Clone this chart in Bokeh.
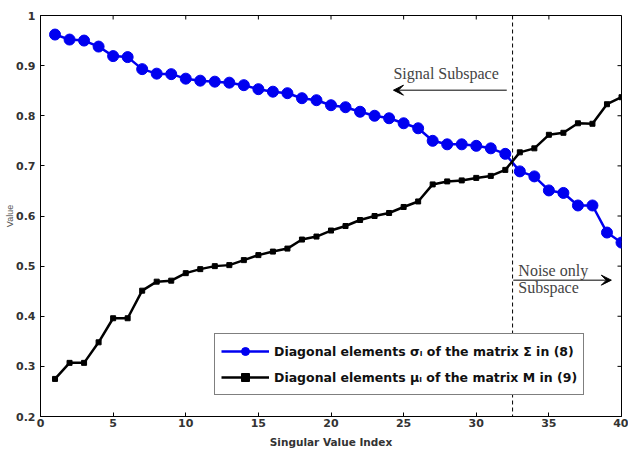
import math
from bokeh.plotting import figure
from bokeh.models import (FixedTicker, Label, Arrow, VeeHead, Span, Legend, Range1d)
from bokeh.embed import file_html
from bokeh.resources import INLINE

idx = list(range(1, 41))
sigma = [0.962, 0.952, 0.950, 0.938, 0.919, 0.917, 0.893, 0.884, 0.883, 0.874,
         0.870, 0.868, 0.866, 0.861, 0.853, 0.848, 0.845, 0.835, 0.831, 0.821,
         0.817, 0.808, 0.800, 0.795, 0.785, 0.775, 0.750, 0.743, 0.743, 0.740,
         0.735, 0.724, 0.689, 0.679, 0.651, 0.646, 0.621, 0.621, 0.567, 0.547]
mu = [0.275, 0.307, 0.307, 0.348, 0.396, 0.396, 0.451, 0.469, 0.471, 0.486,
      0.494, 0.500, 0.502, 0.512, 0.522, 0.529, 0.535, 0.553, 0.559, 0.571,
      0.580, 0.592, 0.600, 0.606, 0.618, 0.629, 0.663, 0.669, 0.671, 0.676,
      0.680, 0.692, 0.727, 0.735, 0.762, 0.766, 0.785, 0.784, 0.823, 0.837]
x_ticks = [0, 5, 10, 15, 20, 25, 30, 35, 40]
y_ticks = [0.2, 0.3, 0.4, 0.5, 0.6, 0.7, 0.8, 0.9, 1.0]
split_index = 32.5
label_sigma = "Diagonal elements \u03c3\u1d62 of the matrix \u03a3 in (8)"
label_mu = "Diagonal elements \u03bc\u1d62 of the matrix M in (9)"

BLUE = "#0000f0"
FONT = "DejaVu Sans"
SERIF = "Liberation Serif"
X0, X1, Y0, Y1 = 0, 40, 0.2, 1.0

p = figure(width=628, height=450, output_backend="svg", toolbar_location=None,
           x_range=Range1d(X0, X1), y_range=Range1d(Y0, Y1),
           min_border_left=40, min_border_right=7, min_border_top=15, min_border_bottom=32)
p.background_fill_color = "white"
p.border_fill_color = "white"
p.outline_line_color = "black"
p.outline_line_width = 1
p.xgrid.visible = False
p.ygrid.visible = False

for ax in (p.xaxis[0], p.yaxis[0]):
    ax.major_tick_in = 4
    ax.major_tick_out = 0
    ax.minor_tick_line_color = None
    ax.axis_line_color = "black"
    ax.major_label_text_font = FONT
    ax.major_label_text_font_size = "11px"
    ax.major_label_text_color = "#333333"
    ax.major_label_text_font_style = "bold"

p.xaxis[0].ticker = FixedTicker(ticks=x_ticks)
p.yaxis[0].ticker = FixedTicker(ticks=y_ticks)
p.yaxis[0].major_label_overrides = {1.0: "1", 1: "1"}
p.xaxis[0].major_label_standoff = 2
p.yaxis[0].major_label_standoff = 5
p.xaxis[0].axis_label = "Singular Value Index"
p.xaxis[0].axis_label_text_font = FONT
p.xaxis[0].axis_label_text_font_size = "10.5px"
p.xaxis[0].axis_label_text_font_style = "bold"
p.xaxis[0].axis_label_text_color = "#333333"
p.xaxis[0].axis_label_standoff = 6

p.yaxis[0].axis_label = "Value"
p.yaxis[0].axis_label_text_font = "Liberation Sans"
p.yaxis[0].axis_label_text_font_size = "9px"
p.yaxis[0].axis_label_text_font_style = "normal"
p.yaxis[0].axis_label_text_color = "#555555"
p.yaxis[0].axis_label_standoff = -2

# inward tick marks on the right and top frame edges
p.ray(x=[X1] * len(y_ticks), y=y_ticks, length=4, length_units="screen",
      angle=math.pi, line_color="black", line_width=1)
p.ray(x=x_ticks, y=[Y1] * len(x_ticks), length=4, length_units="screen",
      angle=-math.pi / 2, line_color="black", line_width=1)

p.add_layout(Span(location=split_index, dimension="height", line_color="black",
                  line_width=1, line_dash="4 3"))

l1 = p.line(idx, sigma, line_color=BLUE, line_width=2.5)
s1 = p.scatter(idx, sigma, marker="circle", size=11, fill_color=BLUE, line_color=BLUE)
l2 = p.line(idx, mu, line_color="black", line_width=2.5)
s2 = p.scatter(idx, mu, marker="square", size=5, fill_color="black", line_color="black")

legend = Legend(items=[(label_sigma, [l1, s1]), (label_mu, [l2, s2])],
                location=(174, 21), orientation="vertical",
                border_line_color="black", border_line_width=1,
                background_fill_alpha=1.0, background_fill_color="white",
                label_text_font=FONT, label_text_font_size="12.5px",
                label_text_font_style="bold", label_text_color="#111111",
                glyph_width=48, glyph_height=20, label_height=22, spacing=4,
                padding=6, margin=0, label_standoff=5)
p.add_layout(legend)

p.add_layout(Label(x=24.3, y=0.885, text="Signal Subspace", text_font=SERIF,
                   text_font_size="16px", text_baseline="middle", text_align="left"))
p.add_layout(Arrow(x_start=32.1, y_start=0.851, x_end=24.3, y_end=0.851,
                   line_color="black", line_width=1,
                   end=VeeHead(size=10, fill_color="black", line_color="black")))
p.add_layout(Label(x=32.9, y=0.492, text="Noise only", text_font=SERIF,
                   text_font_size="16px", text_baseline="middle", text_align="left"))
p.add_layout(Label(x=32.9, y=0.458, text="Subspace", text_font=SERIF,
                   text_font_size="16px", text_baseline="middle", text_align="left"))
p.add_layout(Arrow(x_start=32.55, y_start=0.472, x_end=39.3, y_end=0.472,
                   line_color="black", line_width=1,
                   end=VeeHead(size=10, fill_color="black", line_color="black")))

open("out.html", "w").write(file_html(p, INLINE))
